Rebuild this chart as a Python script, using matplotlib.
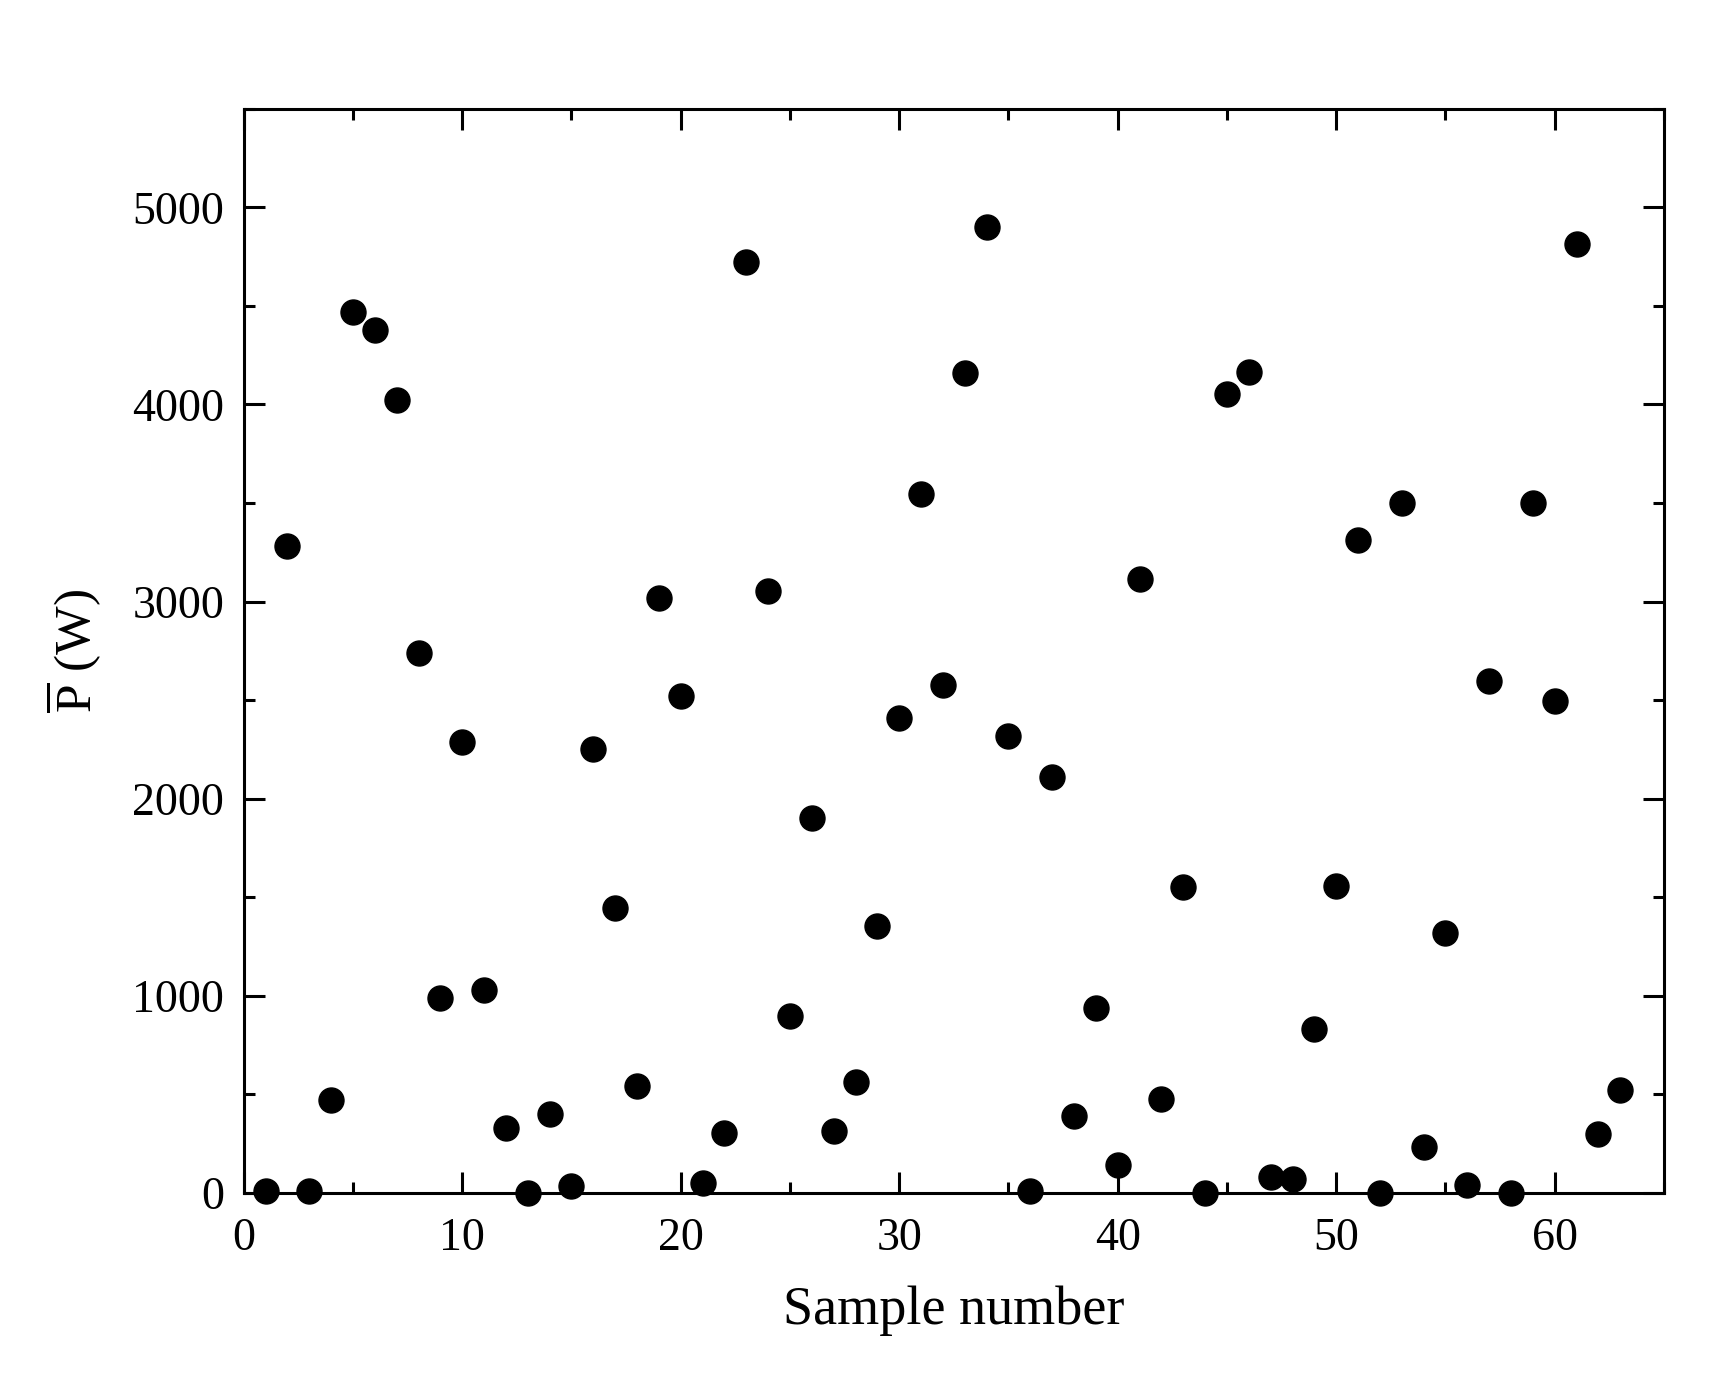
import matplotlib
matplotlib.use('Agg')
import matplotlib.pyplot as plt
from matplotlib.ticker import MultipleLocator

plt.rcParams['font.family'] = ['Liberation Serif', 'DejaVu Serif']
plt.rcParams['mathtext.fontset'] = 'custom'
plt.rcParams['mathtext.rm'] = 'Liberation Serif'

# sample numbers and mean power values
samples = list(range(1, 64))
power = [10, 3280, 10, 470, 4470, 4380, 4020, 2740, 990, 2290,
         1030, 330, 0, 400, 35, 2250, 1445, 545, 3020, 2520,
         50, 305, 4720, 3055, 900, 1900, 315, 565, 1355, 2410,
         3545, 2575, 4160, 4900, 2320, 10, 2110, 390, 940, 140,
         3115, 478, 1552, 0, 4055, 4165, 80, 72, 830, 1557,
         3310, 0, 3500, 235, 1318, 40, 2597, 0, 3500, 2495,
         4815, 300, 523]

fig = plt.figure(figsize=(17.21, 13.84), dpi=100)
ax = fig.add_axes([243.7 / 1721, 1 - 1193 / 1384, (1664 - 243.7) / 1721, (1193 - 108.7) / 1384])

ax.plot(samples, power, 'o', color='black', markersize=18, clip_on=False)

ax.set_xlim(0, 65)
ax.set_ylim(0, 5500)
ax.xaxis.set_major_locator(MultipleLocator(10))
ax.xaxis.set_minor_locator(MultipleLocator(5))
ax.yaxis.set_major_locator(MultipleLocator(1000))
ax.yaxis.set_minor_locator(MultipleLocator(500))

ax.tick_params(which='both', direction='in', top=True, right=True, width=2.2)
ax.tick_params(which='major', length=15)
ax.tick_params(which='minor', length=8)
ax.tick_params(axis='x', labelsize=33, pad=18)
ax.tick_params(axis='y', labelsize=33, pad=14)
for s in ax.spines.values():
    s.set_linewidth(2.2)

ax.set_xlabel('Sample number', fontsize=39, labelpad=18)
ax.set_ylabel(r'$\overline{\mathrm{P}}$ (W)', fontsize=37, labelpad=20)

plt.savefig('out.png', dpi=100)
